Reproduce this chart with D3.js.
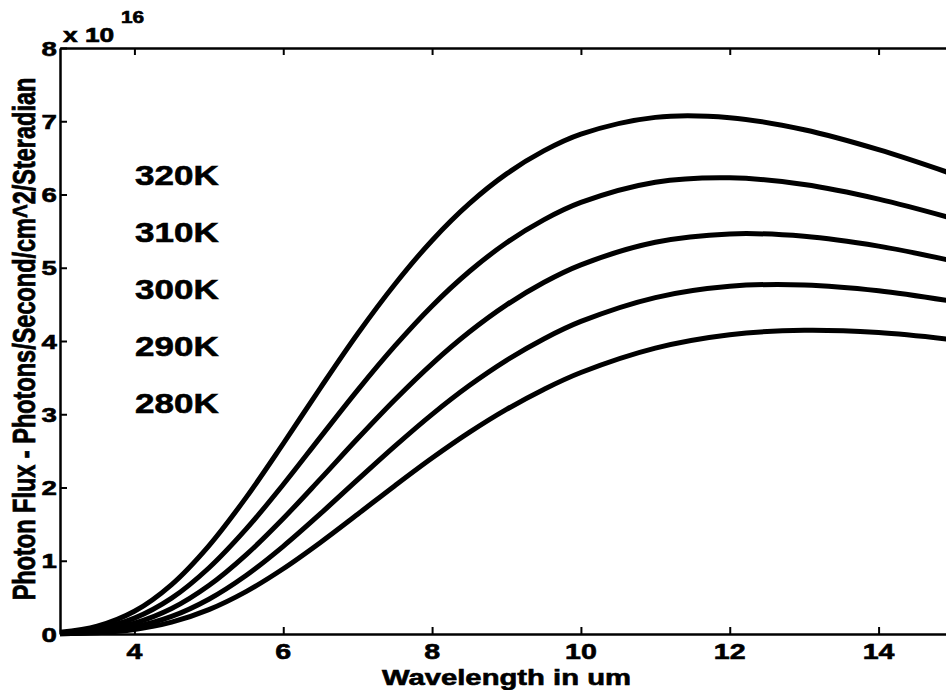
<!DOCTYPE html>
<html>
<head>
<meta charset="utf-8">
<script src="https://cdn.jsdelivr.net/npm/d3@7"></script>
<style>
  body { margin: 0; background: #fff; }
  text { font-family: "Liberation Sans", Arial, sans-serif; font-weight: bold; fill: #000; stroke: #000; stroke-width: 0.6px; }
</style>
</head>
<body>
<div id="chart"></div>
<script>
// wavelength in um
var wavelengths = [3, 3.5, 4, 4.5, 5, 5.5, 6, 6.5, 7, 7.5, 8, 8.5, 9, 9.5, 10, 11, 12, 13, 14, 15];

// photon flux, in units of 1e16
var flux320 = [0.023, 0.106, 0.310, 0.675, 1.204, 1.862, 2.599, 3.361, 4.099, 4.775, 5.373, 5.875, 6.281, 6.595, 6.824, 7.053, 7.049, 6.884, 6.612, 6.278];
var flux310 = [0.014, 0.070, 0.216, 0.489, 0.901, 1.431, 2.041, 2.688, 3.330, 3.933, 4.479, 4.949, 5.341, 5.654, 5.892, 6.168, 6.229, 6.136, 5.937, 5.672];
var flux300 = [0.009, 0.045, 0.147, 0.347, 0.661, 1.080, 1.577, 2.118, 2.669, 3.199, 3.689, 4.122, 4.493, 4.799, 5.040, 5.348, 5.462, 5.430, 5.295, 5.093];
var flux290 = [0.005, 0.028, 0.097, 0.240, 0.475, 0.799, 1.197, 1.642, 2.107, 2.565, 2.999, 3.392, 3.736, 4.028, 4.267, 4.593, 4.747, 4.766, 4.687, 4.541];
var flux280 = [0.003, 0.017, 0.062, 0.162, 0.333, 0.579, 0.891, 1.250, 1.635, 2.025, 2.402, 2.752, 3.066, 3.339, 3.570, 3.903, 4.086, 4.147, 4.115, 4.018];

var tempLabels = ["320K", "310K", "300K", "290K", "280K"];
var xTicks = [4, 6, 8, 10, 12, 14];
var yTicks = [0, 1, 2, 3, 4, 5, 6, 7, 8];

var series = [flux320, flux310, flux300, flux290, flux280];

// set the dimensions and margins of the graph
var margin = {top: 48, right: 0, bottom: 56, left: 60},
    width = 893,
    height = 586;

var svg = d3.select("#chart")
  .append("svg")
    .attr("width", 946)
    .attr("height", 690)
  .append("g")
    .attr("transform", "translate(" + margin.left + "," + margin.top + ")");

var x = d3.scaleLinear()
    .domain([3, 15])
    .range([0, width]);

var y = d3.scaleLinear()
    .domain([0, 8])
    .range([height, 0]);

// axes (ticks point inward, labels drawn separately)
var tick = 7;
svg.append("g")
    .attr("transform", "translate(0," + height + ")")
    .call(d3.axisBottom(x).tickValues(xTicks).tickSizeInner(-tick).tickSizeOuter(0).tickFormat(""));
svg.append("g")
    .call(d3.axisTop(x).tickValues(xTicks).tickSizeInner(-tick).tickSizeOuter(0).tickFormat(""));
svg.append("g")
    .call(d3.axisLeft(y).tickValues(yTicks).tickSizeInner(-tick).tickSizeOuter(0).tickFormat(""));
svg.append("g")
    .attr("transform", "translate(" + width + ",0)")
    .call(d3.axisRight(y).tickValues(yTicks).tickSizeInner(-tick).tickSizeOuter(0).tickFormat(""));

svg.selectAll(".domain").attr("stroke", "#000").attr("stroke-width", 2.5);
svg.selectAll(".tick line").attr("stroke", "#000").attr("stroke-width", 2);

// tick labels
svg.append("g")
  .selectAll("text")
  .data(xTicks)
  .enter()
  .append("text")
    .attr("transform", d => "translate(" + x(d) + "," + (height + 25) + ") scale(1.3,1)")
    .attr("text-anchor", "middle")
    .style("font-size", "22px")
    .text(d => d);

svg.append("g")
  .selectAll("text")
  .data(yTicks)
  .enter()
  .append("text")
    .attr("transform", d => "translate(-3," + (y(d) + 7.5) + ") scale(1.35,1)")
    .attr("text-anchor", "end")
    .style("font-size", "20.5px")
    .text(d => d);

// exponent
svg.append("text")
    .attr("transform", "translate(3,-6) scale(1.35,1)")
    .style("font-size", "19.5px")
    .text("x 10");
svg.append("text")
    .attr("transform", "translate(61,-25) scale(1.3,1)")
    .style("font-size", "16px")
    .text("16");

// axis titles
svg.append("text")
    .attr("transform", "translate(" + x(9) + "," + (height + 51) + ") scale(1.33,1)")
    .attr("text-anchor", "middle")
    .style("font-size", "22px")
    .text("Wavelength in um");

svg.append("text")
    .attr("transform", "translate(-25," + (339 - margin.top) + ") rotate(-90) scale(1,1.35)")
    .attr("text-anchor", "middle")
    .style("font-size", "23.5px")
    .text("Photon Flux - Photons/Second/cm^2/Steradian");

// curves
var line = d3.line()
    .x((d, i) => x(wavelengths[i]))
    .y(d => y(d))
    .curve(d3.curveCatmullRom.alpha(0.5));

svg.append("g")
  .selectAll("path")
  .data(series)
  .enter()
  .append("path")
    .attr("d", d => line(d))
    .attr("fill", "none")
    .attr("stroke", "#000")
    .attr("stroke-width", 5)
    .attr("stroke-linejoin", "round");

// temperature labels
svg.append("g")
  .selectAll("text")
  .data(tempLabels)
  .enter()
  .append("text")
    .attr("transform", (d, i) => "translate(75," + (185 + i * 57 - margin.top) + ") scale(1.25,1)")
    .style("font-size", "28px")
    .text(d => d);
</script>
</body>
</html>
